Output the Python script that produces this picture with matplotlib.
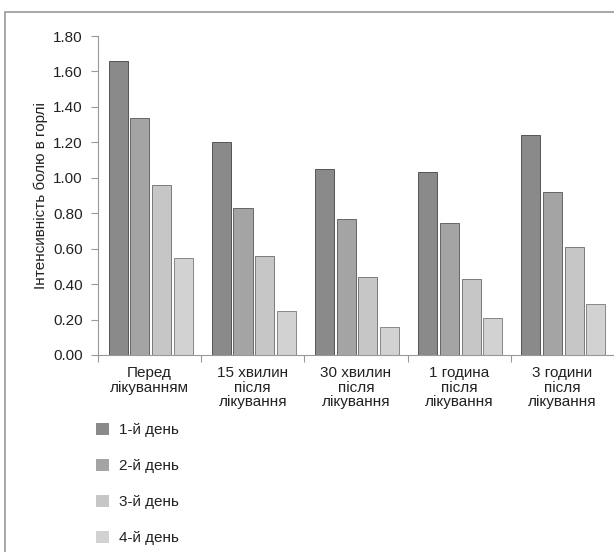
import matplotlib.pyplot as plt
import numpy as np
from matplotlib.patches import Rectangle, Patch

plt.rcParams['font.family'] = ['Liberation Sans', 'DejaVu Sans']

categories = ['Перед\nлікуванням', '15 хвилин\nпісля\nлікування', '30 хвилин\nпісля\nлікування',
              '1 година\nпісля\nлікування', '3 години\nпісля\nлікування']
series_names = ['1-й день', '2-й день', '3-й день', '4-й день']
day1 = [1.66, 1.20, 1.05, 1.03, 1.24]
day2 = [1.34, 0.83, 0.77, 0.745, 0.92]
day3 = [0.96, 0.56, 0.44, 0.43, 0.61]
day4 = [0.55, 0.25, 0.16, 0.21, 0.29]
y_ticks = [0.0, 0.2, 0.4, 0.6, 0.8, 1.0, 1.2, 1.4, 1.6, 1.8]

colors = ['#8a8a8a', '#a4a4a4', '#c6c6c6', '#d2d2d2']
edges = ['#555555', '#666666', '#7a7a7a', '#888888']

fig = plt.figure(figsize=(6.14, 5.52), dpi=100)
ax = fig.add_axes([98 / 614, 1 - 355 / 552, 1 - 98 / 614, (355 - 36) / 552])

x = np.arange(len(categories))
w = 0.185
for k, vals in enumerate([day1, day2, day3, day4]):
    ax.bar(x + (k - 1.5) * 0.21 + 0.01, vals, w, color=colors[k],
           edgecolor=edges[k], linewidth=0.7, label=series_names[k])

ax.set_xlim(-0.5, 4.5)
ax.set_ylim(0, 1.8)
ax.set_yticks(y_ticks)
ax.set_yticklabels(['%.2f' % v for v in y_ticks], fontsize=11, color='#222222')
ax.set_xticks(np.arange(-0.5, 4.6, 1.0))
ax.set_xticklabels([])
ax.set_xticks(x, minor=True)
ax.set_xticklabels(categories, minor=True, fontsize=11, color='#222222', linespacing=1.05)
ax.tick_params(axis='x', which='minor', length=0, pad=8)
ax.tick_params(axis='x', which='major', length=5, color='#999999')
ax.tick_params(axis='y', length=5, color='#999999', pad=6)
for s in ['top', 'right']:
    ax.spines[s].set_visible(False)
for s in ['left', 'bottom']:
    ax.spines[s].set_color('#999999')
ax.set_ylabel('Інтенсивність болю в горлі', fontsize=11, color='#222222', labelpad=4)

handles = [Patch(facecolor=c, edgecolor='none') for c in colors]
fig.legend(handles, series_names, loc='upper left', bbox_to_anchor=(88 / 614, 1 - 415 / 552),
           frameon=False, fontsize=11, handlelength=0.9, handleheight=0.9,
           labelspacing=1.4, borderpad=0, handletextpad=0.6, labelcolor='#222222')

fig.patches.append(Rectangle((5 / 614, -0.01), 1.0, 1 - 12 / 552 + 0.01, transform=fig.transFigure,
                             fill=False, edgecolor='#999999', linewidth=1.2))

fig.savefig('out.png', dpi=100)
